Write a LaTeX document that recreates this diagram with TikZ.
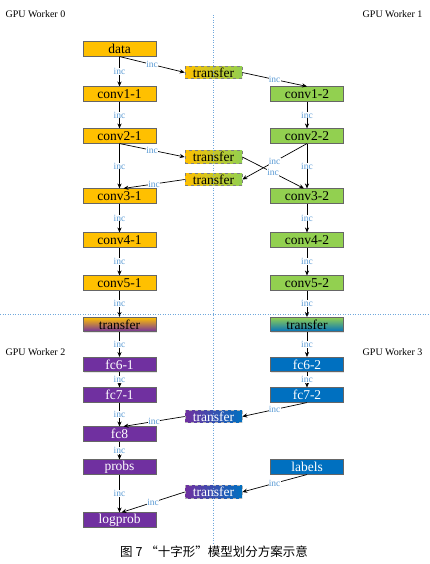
\documentclass[tikz,border=0pt]{standalone}
\usepackage{fontspec}
\setmainfont{Liberation Serif}
\newfontfamily\cjk{Noto Sans CJK SC}
\usetikzlibrary{arrows.meta,shadows,calc}
\definecolor{cOr}{HTML}{FFC000}
\definecolor{cGr}{HTML}{92D050}
\definecolor{cPu}{HTML}{7030A0}
\definecolor{cBl}{HTML}{0070C0}
\definecolor{cInc}{HTML}{5B9BD5}
\definecolor{cDot}{HTML}{6FA8DC}
\begin{document}
\begin{tikzpicture}[x=1pt,y=-1pt,
  box/.style={draw=black!60, line width=0.6pt, minimum width=73pt, minimum height=14.5pt,
    inner sep=0pt, font=\fontsize{13.5}{14}\selectfont,
    drop shadow={shadow xshift=0.8pt, shadow yshift=-0.8pt, fill=black!20}},
  orbox/.style={box, fill=cOr},
  grbox/.style={box, fill=cGr},
  pubox/.style={box, fill=cPu, text=white},
  blbox/.style={box, fill=cBl, text=white},
  midbox/.style={draw, dashed, line width=0.6pt, minimum width=57pt, minimum height=12.5pt,
    inner sep=0pt, font=\fontsize{13.5}{14}\selectfont},
  ogmid/.style={midbox, draw=black!50, left color=cOr, right color=cGr},
  pbmid/.style={midbox, draw=white!70!black, left color=cPu, right color=cBl, text=white},
  arr/.style={-{Stealth[length=5pt,width=4.2pt]}, line width=0.7pt},
  inc/.style={font=\fontsize{9.5}{9.5}\selectfont, text=cInc, fill=white, inner sep=0.3pt},
  worker/.style={font=\fontsize{10}{11}\selectfont},
  divider/.style={cDot, line width=1pt, dash pattern=on 1pt off 1.5pt}
]
\useasboundingbox (0,0) rectangle (429,564);

% left column
\node[orbox] (data) at (119.5,49) {data};
\node[orbox] (c11) at (119.5,94) {conv1-1};
\node[orbox] (c21) at (119.5,136) {conv2-1};
\node[orbox] (c31) at (119.5,196) {conv3-1};
\node[orbox] (c41) at (119.5,240) {conv4-1};
\node[orbox] (c51) at (119.5,283) {conv5-1};
\node[box, top color=cOr, bottom color=cPu] (trL) at (119.5,324.5) {transfer};
\node[pubox] (fc61) at (119.5,364.5) {fc6-1};
\node[pubox] (fc71) at (119.5,395) {fc7-1};
\node[pubox] (fc8) at (119.5,434) {fc8};
\node[pubox] (probs) at (119.5,467) {probs};
\node[pubox] (logprob) at (119.5,520) {logprob};

% right column
\node[grbox] (c12) at (307,94) {conv1-2};
\node[grbox] (c22) at (307,136) {conv2-2};
\node[grbox] (c32) at (307,196) {conv3-2};
\node[grbox] (c42) at (307,240) {conv4-2};
\node[grbox] (c52) at (307,283) {conv5-2};
\node[box, top color=cGr, bottom color=cBl] (trR) at (307,324.5) {transfer};
\node[blbox] (fc62) at (307,364.5) {fc6-2};
\node[blbox] (fc72) at (307,395) {fc7-2};
\node[blbox] (labels) at (307,467) {labels};

% middle transfers
\node[ogmid] (t1) at (213.5,72.5) {transfer};
\node[ogmid] (t2) at (213.5,157) {transfer};
\node[ogmid] (t3) at (213.5,179.5) {transfer};
\node[pbmid] (t4) at (213.5,416.5) {transfer};
\node[pbmid] (t5) at (213.5,492) {transfer};

% vertical edges
\foreach \a/\b in {data/c11,c11/c21,c21/c31,c31/c41,c41/c51,c51/trL,trL/fc61,fc61/fc71,fc71/fc8,fc8/probs,probs/logprob,
                   c12/c22,c22/c32,c32/c42,c42/c52,c52/trR,trR/fc62,fc62/fc72}
  \draw[arr] (\a.south) -- node[inc]{inc} (\b.north);

% diagonal edges
\draw[arr] (data.south) -- node[inc]{inc} (t1.west);
\draw[arr] (t1.east) -- node[inc]{inc} (c12.north);
\draw[arr] (c21.south) -- node[inc]{inc} (t2.west);
\draw[arr] (t3.west) -- node[inc]{inc} ($(c31.north)+(4,0)$);
\draw[arr] (c22.south) -- node[inc]{inc} (t3.east);
\draw[arr] (t2.east) -- node[inc]{inc} ($(c32.north)+(-3,0)$);
\draw[arr] (fc72.south) -- node[inc]{inc} (t4.east);
\draw[arr] (t4.west) -- node[inc]{inc} ($(fc8.north)+(4,0)$);
\draw[arr] (labels.south) -- node[inc]{inc} (t5.east);
\draw[arr] (t5.west) -- node[inc]{inc} ($(logprob.north)+(2,0)$);

% dividers
\coordinate (vTop) at (213,15);
\coordinate (vBot) at (213,545);
\coordinate (hL) at (0,314);
\coordinate (hR) at (429,314);
\draw[divider] (vTop) -- (vBot);
\draw[divider] (hL) -- (hR);

% worker labels
\node[worker, anchor=west] (w0) at (2,14) {GPU Worker 0};
\node[worker, anchor=east] (w1) at (426,14) {GPU Worker 1};
\node[worker, anchor=west] (w2) at (2,352) {GPU Worker 2};
\node[worker, anchor=east] (w3) at (426,352) {GPU Worker 3};

% caption
\node[font=\cjk\fontsize{12.5}{13}\selectfont] (cap) at (214,552) {图 7 “十字形”模型划分方案示意};
\end{tikzpicture}
\end{document}
